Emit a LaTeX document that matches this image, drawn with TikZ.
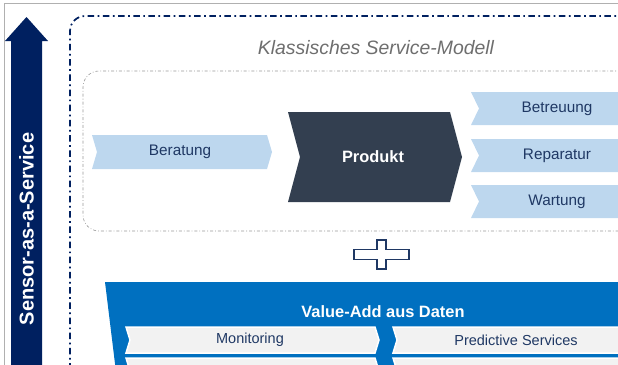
\documentclass[tikz,border=0pt]{standalone}
\usepackage{fontspec}
\setmainfont{Liberation Sans}
\usetikzlibrary{calc}

\definecolor{navy}{HTML}{002060}
\definecolor{textnavy}{HTML}{1F3864}
\definecolor{lightblue}{HTML}{BDD7EE}
\definecolor{slate}{HTML}{333F50}
\definecolor{valueblue}{HTML}{0070C0}
\definecolor{paleg}{HTML}{F2F2F2}
\definecolor{titlegray}{HTML}{6E6E6E}
\definecolor{framegray}{HTML}{B0B0B0}

% chevron: style, left, right, top, bottom, depth
\newcommand{\chevron}[6]{%
	\path[#1] (#2,#4) -- ({#3-#6},#4) -- (#3,{(#4+#5)/2}) -- ({#3-#6},#5)
		-- (#2,#5) -- ({#2+#6},{(#4+#5)/2}) -- cycle;}

\tikzset{
	outerframe/.style={draw=navy, line width=1.7pt, rounded corners=15pt,
		dash pattern=on 6.5pt off 3.5pt on 1.7pt off 3.5pt},
	innerframe/.style={draw=gray!80, line width=0.6pt, rounded corners=16pt,
		dash pattern=on 3pt off 2pt on 0.8pt off 2pt},
	lightchev/.style={fill=lightblue},
	darkchev/.style={fill=slate},
	greychev/.style={fill=paleg, draw=white, line width=1.5pt},
	chevtext/.style={text=textnavy, font=\fontsize{15.3}{18}\selectfont},
	smalltext/.style={text=textnavy, font=\fontsize{14.5}{17}\selectfont},
	boldwhite/.style={text=white, font=\bfseries\fontsize{16.4}{19}\selectfont},
}

\begin{document}
\begin{tikzpicture}[x=1pt, y=-1pt]
	
	\useasboundingbox (0,0) rectangle (618,364);
	\clip (0,0) rectangle (618,364);
	
	\draw[framegray, line width=0.8pt] (4,380) -- (4,3) -- (640,3);
	
	% Sensor arrow
	\fill[navy] (11,380) -- (11,41) -- (5,41) -- (26.5,17) -- (48,41) -- (42,41) -- (42,380);
	\node[rotate=90, text=white, font=\bfseries\fontsize{20}{24}\selectfont] (SENSOR) at (26.5,229) {Sensor-as-a-Service};
	
	% frames
	\draw[outerframe] (70,400) -- (70,16) -- (660,16);
	\draw[innerframe] (660,71) -- (83,71) -- (83,231) -- (660,231);
	\node[text=titlegray, font=\itshape\fontsize{19.4}{22}\selectfont] (TITLE) at (376,48) {Klassisches Service-Modell};
	
	% classic service model
	\chevron{lightchev}{92}{272}{135}{169}{5}
	\chevron{darkchev}{288}{462}{112}{202}{12}
	\chevron{lightchev}{471}{645}{92}{125}{8}
	\chevron{lightchev}{471}{645}{139}{172}{8}
	\chevron{lightchev}{471}{645}{185}{218}{8}
	
	\node[chevtext] (BERATUNG) at (180,152) {Beratung};
	\node[boldwhite] (PRODUKT) at (373,157) {Produkt};
	\node[chevtext] (BETREUUNG) at (557,108.5) {Betreuung};
	\node[chevtext] (REPARATUR) at (557,155.5) {Reparatur};
	\node[chevtext] (WARTUNG) at (557,201.5) {Wartung};
	
	% plus
	\draw[textnavy, line width=1.8pt, fill=white] (377,240) -- (386,240) -- (386,249.5) -- (409,249.5) -- (409,259.5)
		-- (386,259.5) -- (386,269) -- (377,269) -- (377,259.5) -- (354,259.5) -- (354,249.5) -- (377,249.5) -- cycle;
	
	% value-add
	\fill[valueblue] (105,282) -- (660,282) -- (660,380) -- (117,380) -- cycle;
	\node[boldwhite] (VALUEADD) at (383,312) {Value-Add aus Daten};
	\chevron{greychev}{126}{379}{327}{353}{4}
	\chevron{greychev}{393}{700}{327}{353}{4}
	\chevron{greychev}{126}{379}{358}{384}{4}
	\chevron{greychev}{393}{700}{358}{384}{4}
	\node[smalltext] (MONITORING) at (250,340) {Monitoring};
	\node[smalltext] (PREDICTIVE) at (516,340) {Predictive Services};
	
\end{tikzpicture}
\end{document}
